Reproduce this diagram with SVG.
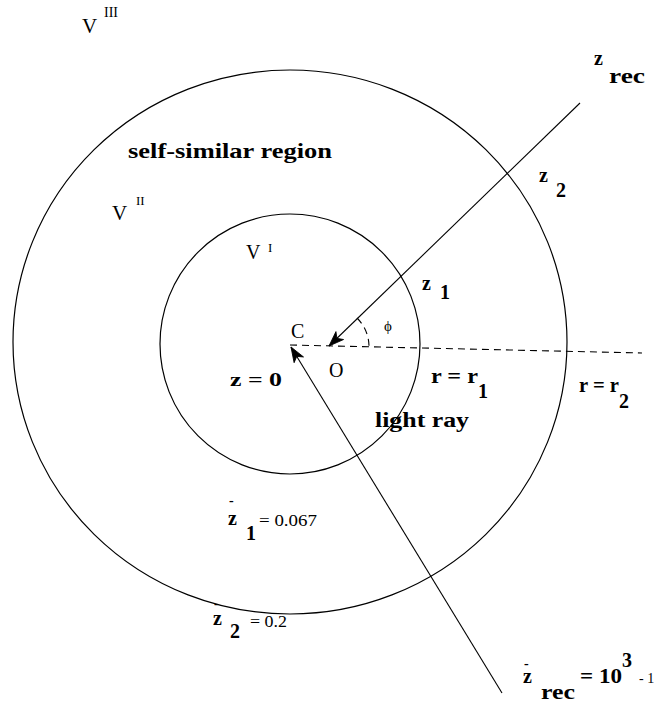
<svg xmlns="http://www.w3.org/2000/svg" width="660" height="704" viewBox="0 0 660 704">
<style>
  .t { font-family: "Liberation Serif", "Times New Roman", serif; fill: #000; }
  .b { font-weight: bold; }
  .ring { fill: none; stroke: #000; stroke-width: 1.2; }
  .ln { fill: none; stroke: #000; stroke-width: 1.1; }
  .dash { fill: none; stroke: #000; stroke-width: 1.1; stroke-dasharray: 7 5; }
</style>
<defs>
  <marker id="arr" markerUnits="userSpaceOnUse" markerWidth="20" markerHeight="14" viewBox="-16 -7 18 14" refX="0" refY="0" orient="auto">
    <path d="M0,0 L-15,-5.5 L-11,0 L-15,5.5 Z" fill="#000" stroke="#000" stroke-width="0.8"/>
  </marker>
</defs>
<rect width="660" height="704" fill="#fff"/>

<g id="outer-region">
  <ellipse class="ring" cx="290" cy="342" rx="277" ry="272"/>
  <text class="t" x="82" y="33" font-size="21">V</text>
  <text class="t" x="104" y="17" font-size="14">III</text>
</g>

<g id="self-similar-region">
  <text class="t b" x="128" y="158" font-size="22" textLength="204" lengthAdjust="spacingAndGlyphs">self-similar region</text>
  <text class="t" x="112" y="220" font-size="21">V</text>
  <text class="t" x="136" y="205" font-size="13">II</text>
</g>

<g id="inner-region">
  <circle class="ring" cx="290" cy="344" r="130"/>
  <text class="t" x="246" y="259" font-size="20">V</text>
  <text class="t" x="268" y="252" font-size="13">I</text>
</g>

<g id="connectors">
  <line class="ln" x1="580" y1="103" x2="329" y2="346" marker-end="url(#arr)"/>
  <line class="ln" x1="502" y1="693" x2="291" y2="347" marker-end="url(#arr)"/>
  <line class="dash" x1="290" y1="345" x2="642" y2="353"/>
  <path class="dash" d="M357,318 A40,40 0 0 1 369,347" stroke-dasharray="4 3"/>
</g>

<g id="point-C">
  <text class="t" x="291" y="338" font-size="20">C</text>
</g>
<g id="point-O">
  <text class="t" x="329" y="377" font-size="20">O</text>
  <text class="t" x="384" y="331" font-size="15">ϕ</text>
</g>

<g id="label-z0">
  <text class="t b" x="230" y="386" font-size="19" textLength="52" lengthAdjust="spacingAndGlyphs">z = 0</text>
</g>

<g id="label-zrec">
  <text class="t b" x="594" y="65" font-size="20">z</text>
  <text class="t b" x="609" y="83" font-size="20" textLength="36" lengthAdjust="spacingAndGlyphs">rec</text>
</g>
<g id="label-z2">
  <text class="t b" x="539" y="182" font-size="20">z</text>
  <text class="t b" x="556" y="197" font-size="20">2</text>
</g>
<g id="label-z1">
  <text class="t b" x="422" y="290" font-size="20">z</text>
  <text class="t b" x="440" y="299" font-size="20">1</text>
</g>

<g id="label-r1">
  <text class="t b" x="431" y="383" font-size="20" textLength="47" lengthAdjust="spacingAndGlyphs">r = r</text>
  <text class="t b" x="478" y="398" font-size="20">1</text>
</g>
<g id="label-r2">
  <text class="t b" x="579" y="392" font-size="20" textLength="40" lengthAdjust="spacingAndGlyphs">r = r</text>
  <text class="t b" x="619" y="408" font-size="20">2</text>
</g>

<g id="label-light-ray">
  <text class="t b" x="375" y="427" font-size="20" textLength="94" lengthAdjust="spacingAndGlyphs">light ray</text>
</g>

<g id="label-zbar1">
  <text class="t b" x="229" y="505" font-size="14">-</text>
  <text class="t b" x="228" y="525" font-size="20">z</text>
  <text class="t b" x="246" y="540" font-size="20">1</text>
  <text class="t" x="259" y="526" font-size="16" textLength="58" lengthAdjust="spacingAndGlyphs">= 0.067</text>
</g>

<g id="label-zbar2">
  <text class="t b" x="214" y="608" font-size="14">-</text>
  <text class="t b" x="213" y="625" font-size="20">z</text>
  <text class="t b" x="230" y="638" font-size="20">2</text>
  <text class="t" x="250" y="627" font-size="16" textLength="37" lengthAdjust="spacingAndGlyphs">= 0.2</text>
</g>

<g id="label-zbarrec">
  <text class="t b" x="524" y="668" font-size="14">-</text>
  <text class="t b" x="523" y="683" font-size="20">z</text>
  <text class="t b" x="541" y="699" font-size="20" textLength="34" lengthAdjust="spacingAndGlyphs">rec</text>
  <text class="t b" x="580" y="683" font-size="20" textLength="42" lengthAdjust="spacingAndGlyphs">= 10</text>
  <text class="t b" x="622" y="667" font-size="20">3</text>
  <text class="t" x="639" y="683" font-size="14">- 1</text>
</g>
</svg>
